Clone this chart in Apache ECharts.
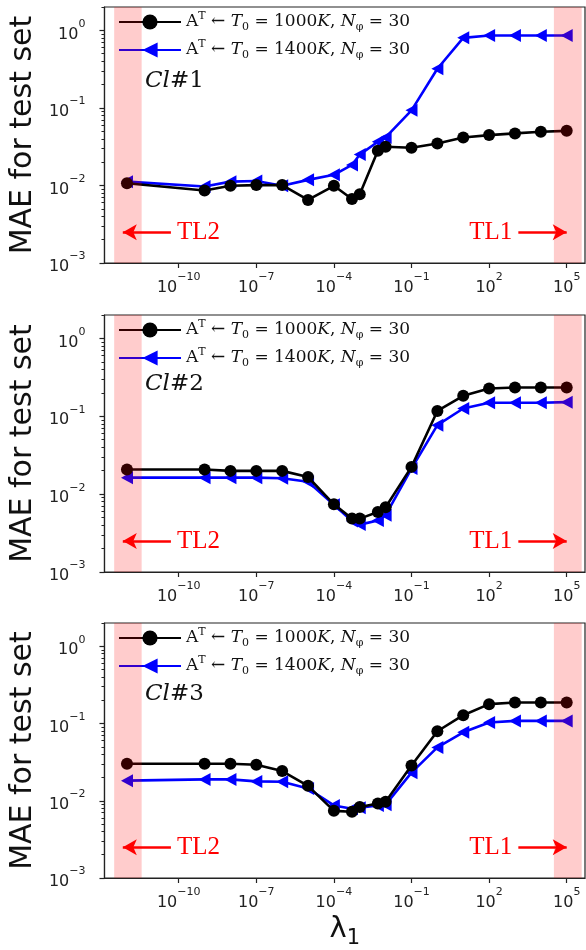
<!DOCTYPE html>
<html><head><meta charset="utf-8">
<script src="https://cdn.jsdelivr.net/npm/echarts@6/dist/echarts.min.js"></script>
<style>html,body{margin:0;padding:0;background:#fff}#c{width:586px;height:950px}</style>
</head><body><div id="c"></div><script>
// ---- data ----
const lambdas = [1e-12,1e-9,1e-8,1e-7,1e-6,1e-5,1e-4,5e-4,1e-3,5e-3,1e-2,1e-1,1,10,100,1e3,1e4,1e5];
const cl1_T1000 = [0.0107,0.0086,0.0099,0.0101,0.0101,0.0065,0.0099,0.0067,0.0077,0.028,0.0316,0.0306,0.0348,0.0416,0.0446,0.0469,0.0492,0.0506];
const cl1_T1400 = [0.0112,0.0097,0.0112,0.0114,0.0099,0.0118,0.0137,0.0184,0.025,0.0366,0.0416,0.093,0.32,0.80,0.86,0.86,0.86,0.86];
const cl2_T1000 = [0.0207,0.0207,0.0199,0.0199,0.0199,0.0166,0.0074,0.00485,0.00485,0.0059,0.0068,0.0224,0.117,0.183,0.227,0.234,0.234,0.234];
const cl2_T1400 = [0.0163,0.0163,0.0163,0.0163,0.016,0.0144,0.0073,0.00453,0.00406,0.0046,0.00536,0.0213,0.0769,0.126,0.149,0.149,0.149,0.152];
const cl3_T1000 = [0.0301,0.0301,0.0301,0.0292,0.0242,0.0156,0.0074,0.0072,0.0083,0.0092,0.0097,0.0286,0.0794,0.128,0.178,0.187,0.187,0.187];
const cl3_T1400 = [0.0182,0.0189,0.0189,0.0178,0.0176,0.0144,0.0087,0.0079,0.0081,0.0087,0.0089,0.0231,0.049,0.0769,0.103,0.108,0.108,0.108];
const panelNames = ['1','2','3'];
const xTicks = [1e-10,1e-7,1e-4,1e-1,1e2,1e5];
const yTicks = [1e-3,1e-2,1e-1,1];
const yMinorTicks = [2e-3,3e-3,4e-3,5e-3,6e-3,7e-3,8e-3,9e-3,2e-2,3e-2,4e-2,5e-2,6e-2,7e-2,8e-2,9e-2,0.2,0.3,0.4,0.5,0.6,0.7,0.8,0.9,2];
const xRange = [1.35e-13, 5.1e5];
const yRange = [1e-3, 2];
const leftBand = [3.2e-13, 3.7e-12];
const rightBand = [3.2e4, 3.8e5];
const tl2Arrow = [6.9e-13, 5e-11];
const tl1Arrow = [1350, 1e5];
const arrowY = 2.5e-3;
const seriesNames = ['A^T <- T0 = 1000K, Nphi = 30', 'A^T <- T0 = 1400K, Nphi = 30'];
const seriesTemps = ['1000', '1400'];
const allData = [[cl1_T1000, cl1_T1400],[cl2_T1000, cl2_T1400],[cl3_T1000, cl3_T1400]];

// ---- layout ----
const grids = [{top:7,height:256},{top:315,height:257},{top:623,height:257}];
function powLabel(v){
  const e = Math.round(Math.log10(v));
  return '{b|10}{s|' + String(e).replace('-', '\u2212') + '}';
}
const tickRich = {
  b:{fontFamily:'DejaVu Sans', fontSize:16, lineHeight:24, color:'#222', verticalAlign:'bottom'},
  s:{fontFamily:'DejaVu Sans', fontSize:11, lineHeight:12, color:'#222', verticalAlign:'top'}
};
const TRI = 'path://M0,5L10,0L10,10Z';

const option = {animation:false, backgroundColor:'#fff', grid:[], xAxis:[], yAxis:[], series:[], legend:[], title:[]};
const LF = 'DejaVu Serif';
const legendRich = {
  r:{fontFamily:LF, fontSize:17, lineHeight:22, color:'#111', verticalAlign:'middle'},
  i:{fontFamily:LF, fontStyle:'italic', fontSize:17, lineHeight:22, color:'#111', verticalAlign:'middle'},
  sup:{fontFamily:LF, fontSize:11, lineHeight:13, color:'#111', verticalAlign:'top'},
  sub:{fontFamily:LF, fontSize:11, lineHeight:11, color:'#111', verticalAlign:'bottom'}
};
grids.forEach((g, k) => {
  option.grid.push({left:103, width:482, top:g.top, height:g.height, show:true, borderColor:'#222', borderWidth:1.2, backgroundColor:'transparent'});
  option.xAxis.push({
    type:'log', gridIndex:k, min:xRange[0], max:xRange[1], position:'bottom',
    axisLine:{show:true, onZero:false, lineStyle:{color:'#222', width:1.2}},
    axisTick:{show:true, inside:false, length:5, customValues:xTicks, lineStyle:{color:'#222', width:1.2}},
    axisLabel:{customValues:xTicks, margin:9, formatter:powLabel, rich:tickRich},
    splitLine:{show:false}, minorTick:{show:false},
    name: k===2 ? '{l|\u03BB}{s|1}' : '', nameLocation:'middle', nameGap:37,
    nameTextStyle:{rich:{
      l:{fontFamily:'DejaVu Sans', fontSize:29, lineHeight:34, color:'#111', verticalAlign:'top'},
      s:{fontFamily:'DejaVu Sans', fontSize:21, lineHeight:26, color:'#111', verticalAlign:'bottom'}
    }}
  });
  option.yAxis.push({
    type:'log', gridIndex:k, min:yRange[0], max:yRange[1], position:'left',
    axisLine:{show:true, onZero:false, lineStyle:{color:'#222', width:1.2}},
    axisTick:{show:true, inside:false, length:5, customValues:yTicks, lineStyle:{color:'#222', width:1.2}},
    axisLabel:{customValues:yTicks, margin:19, formatter:powLabel, rich:tickRich},
    splitLine:{show:false},
    name:'MAE for test set', nameLocation:'middle', nameGap:60,
    nameTextStyle:{fontFamily:'DejaVu Sans', fontSize:30, color:'#111'}
  });
  option.yAxis.push({
    type:'log', gridIndex:k, min:yRange[0], max:yRange[1], position:'left', offset:0,
    axisLine:{show:false},
    axisTick:{show:true, inside:false, length:3, customValues:yMinorTicks, lineStyle:{color:'#222', width:1}},
    axisLabel:{show:false}, splitLine:{show:false}
  });
  const d = allData[k];
  option.series.push({
    type:'line', name:seriesNames[0], xAxisIndex:k, yAxisIndex:2*k, z:3,
    data: lambdas.map((x,i)=>[x, d[0][i]]),
    symbol:'circle', symbolSize:12, lineStyle:{color:'#000', width:2.6}, itemStyle:{color:'#000'},
    markLine:{silent:true, animation:false, z:5, lineStyle:{color:'#ff0000', width:2.5, type:'solid'}, symbolSize:[12,14],
      label:{show:true, color:'#ff0000', fontFamily:'Liberation Serif', fontSize:25, distance:6},
      data:[
        [{coord:[tl2Arrow[0], arrowY], symbol:'arrow', label:{position:'end', formatter:'TL2'}}, {coord:[tl2Arrow[1], arrowY], symbol:'none'}],
        [{coord:[tl1Arrow[0], arrowY], symbol:'none', label:{position:'start', formatter:'TL1'}}, {coord:[tl1Arrow[1], arrowY], symbol:'arrow'}]
      ]}
  });
  option.series.push({
    type:'line', name:seriesNames[1], xAxisIndex:k, yAxisIndex:2*k, z:2,
    data: lambdas.map((x,i)=>[x, d[1][i]]),
    symbol:TRI, symbolSize:[12,13], lineStyle:{color:'#0000ff', width:2.6}, itemStyle:{color:'#0000ff'},
    markArea:{silent:true, z:10, itemStyle:{color:'rgba(255,0,0,0.2)'},
      data:[[{xAxis:leftBand[0]},{xAxis:leftBand[1]}],[{xAxis:rightBand[0]},{xAxis:rightBand[1]}]]}
  });
  option.legend.push({
    data:seriesNames, orient:'vertical', left:118, top:g.top + 4, itemWidth:62, itemHeight:19, itemGap:6, z:1,
    selectedMode:false, backgroundColor:'transparent', padding:0,
    formatter:(name)=>{
      const t = name.indexOf('1000')>=0 ? seriesTemps[0] : seriesTemps[1];
      return '{r|A}{sup|T}{r| \u2190 }{i|T}{sub|0}{r| = '+t+'}{i|K}{r|, }{i|N}{sub|\u03C6}{r| = 30}';
    },
    textStyle:{rich:legendRich}
  });
  option.title.push({
    text:'{i|Cl}{n|#'+panelNames[k]+'}', left:145, top:[70, 373, 683][k], padding:0,
    textStyle:{fontWeight:'normal', rich:{i:{fontFamily:'DejaVu Serif', fontStyle:'italic', fontWeight:'normal', fontSize:23, color:'#111'}, n:{fontFamily:'DejaVu Serif', fontWeight:'normal', fontSize:23, color:'#111'}}}
  });
});
const chart = echarts.init(document.getElementById('c'), null, {renderer:'canvas'});
chart.setOption(option);
</script></body></html>
